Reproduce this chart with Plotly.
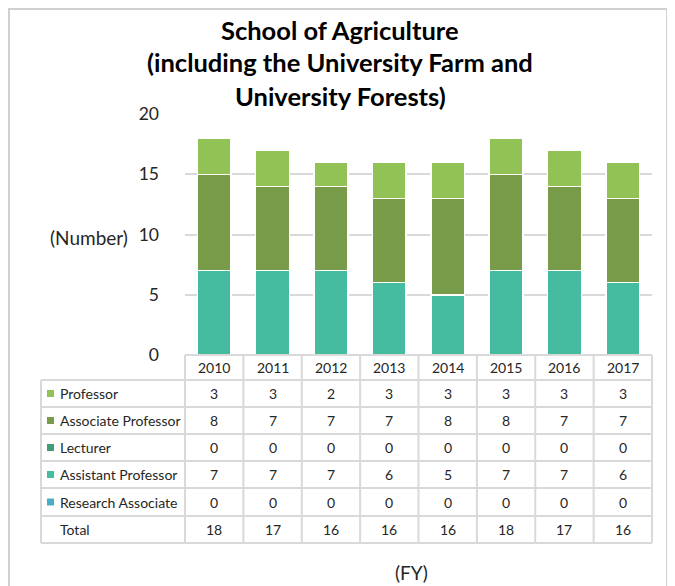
import plotly.graph_objects as go

years = ["2010", "2011", "2012", "2013", "2014", "2015", "2016", "2017"]
professor = [3, 3, 2, 3, 3, 3, 3, 3]
associate_professor = [8, 7, 7, 7, 8, 8, 7, 7]
lecturer = [0, 0, 0, 0, 0, 0, 0, 0]
assistant_professor = [7, 7, 7, 6, 5, 7, 7, 6]
research_associate = [0, 0, 0, 0, 0, 0, 0, 0]
totals = [18, 17, 16, 16, 16, 18, 17, 16]

y_ticks = [0, 5, 10, 15, 20]

FONT = "Lato"
TXT = "#262626"
GRID = "#D9D9D9"

# stacking order bottom -> top
series = [
    ("Research Associate", research_associate, "#4BACC6"),
    ("Assistant Professor", assistant_professor, "#45BC9F"),
    ("Lecturer", lecturer, "#3F9D78"),
    ("Associate Professor", associate_professor, "#779B48"),
    ("Professor", professor, "#92C156"),
]
# table row order (top -> bottom)
table_rows = [
    ("Professor", professor, "#92C156"),
    ("Associate Professor", associate_professor, "#779B48"),
    ("Lecturer", lecturer, "#3F9D78"),
    ("Assistant Professor", assistant_professor, "#45BC9F"),
    ("Research Associate", research_associate, "#4BACC6"),
]

# page has an 8px body margin: figure is drawn from page (8, 8)
OFF = 8
W, H = 675 - OFF, 586 - OFF
# plot area in page pixels
L, R, T, B = 185, 652, 114, 355


def px(x):
    return (x - L) / (R - L)


def py(y):
    return (B - y) / (B - T)


fig = go.Figure()
for name, vals, col in series:
    fig.add_trace(go.Bar(
        x=years, y=vals, name=name,
        marker=dict(color=col, line=dict(color="white", width=1.5)),
        showlegend=False,
    ))

shapes = []
annotations = []

# outer chart border
shapes.append(dict(type="rect", xref="paper", yref="paper",
                   x0=px(9), x1=px(667), y0=py(620), y1=py(9),
                   line=dict(color="#D0D0D0", width=2), layer="below"))

# table geometry
n = len(years)
colw = (R - L) / n
row_edges = [355, 380, 407, 434, 461, 488, 516, 543]
lab_left = 41


def hline(y, x0, x1):
    shapes.append(dict(type="line", xref="paper", yref="paper",
                       x0=px(x0), x1=px(x1), y0=py(y), y1=py(y),
                       line=dict(color=GRID, width=2)))


def vline(x, y0, y1):
    shapes.append(dict(type="line", xref="paper", yref="paper",
                       x0=px(x), x1=px(x), y0=py(y0), y1=py(y1),
                       line=dict(color=GRID, width=2)))


def label(x, y, text, size=14, anchor="center", color=TXT):
    annotations.append(dict(x=px(x), y=py(y), xref="paper", yref="paper",
                            text=text, showarrow=False,
                            xanchor=anchor, yanchor="middle",
                            font=dict(family=FONT, size=size, color=color)))


hline(row_edges[0], L, R)
for y in row_edges[1:]:
    hline(y, lab_left, R)
vline(lab_left, row_edges[1], row_edges[-1])
for k in range(n + 1):
    vline(L + k * colw, row_edges[0], row_edges[-1])


def row_center(i):
    return (row_edges[i] + row_edges[i + 1]) / 2


# header years
for j, yr in enumerate(years):
    label(L + (j + 0.5) * colw, row_center(0), yr)

# series rows
for i, (name, vals, col) in enumerate(table_rows):
    cy = row_center(i + 1)
    shapes.append(dict(type="rect", xref="paper", yref="paper",
                       x0=px(47), x1=px(54), y0=py(cy + 3.5), y1=py(cy - 3.5),
                       fillcolor=col, line=dict(width=0)))
    label(58, cy, name, anchor="left")
    for j, v in enumerate(vals):
        label(L + (j + 0.5) * colw, cy, str(v))

# total row
cy = row_center(len(table_rows) + 1)
label(58, cy, "Total", anchor="left")
for j, v in enumerate(totals):
    label(L + (j + 0.5) * colw, cy, str(v))

# title lines
for text, y in [("School of Agriculture", 30),
                ("(including the University Farm and", 62),
                ("University Forests)", 96)]:
    label(340, y, "<b>" + text + "</b>", size=25.5, color="#000000")

# axis labels
label(89, 237, "(Number)", size=19)
label(411, 572, "(FY)", size=19)

fig.update_layout(
    width=W, height=H,
    margin=dict(l=L - OFF, r=W - (R - OFF), t=T - OFF, b=H - (B - OFF),
                autoexpand=False),
    barmode="stack", bargap=0.42,
    plot_bgcolor="white", paper_bgcolor="white",
    font=dict(family=FONT, color=TXT),
    shapes=shapes, annotations=annotations,
    xaxis=dict(showticklabels=False, showgrid=False, showline=False,
               zeroline=False, ticks="", range=[-0.5, n - 0.5],
               automargin=False),
    yaxis=dict(range=[0, 20], tickvals=y_ticks, showgrid=True,
               gridcolor=GRID, gridwidth=2, zeroline=False, showline=False,
               tickfont=dict(family=FONT, size=17.5, color=TXT), ticklen=0,
               ticks="", ticklabelstandoff=25, automargin=False),
)

fig.write_html("out.html")
